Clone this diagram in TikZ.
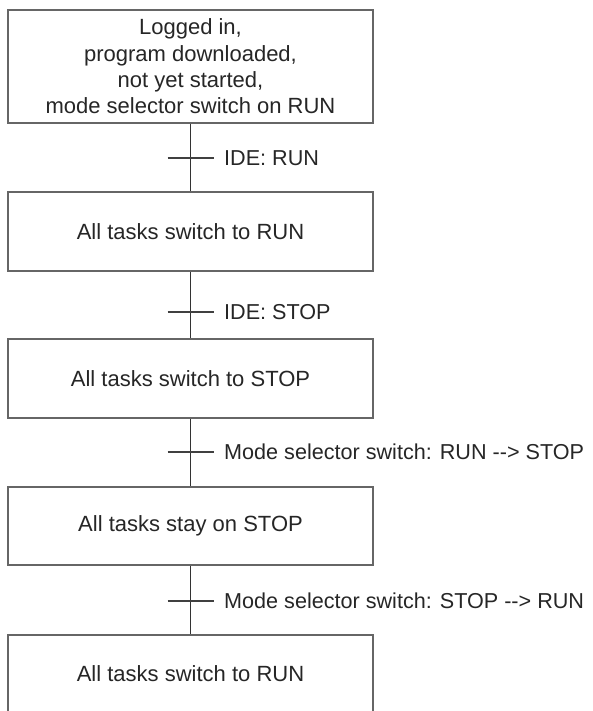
\documentclass[tikz,border=0pt]{standalone}
\usepackage{fontspec}
\setmainfont{Liberation Sans}
\begin{document}
\begin{tikzpicture}[x=1pt,y=-1pt,
  statebox/.style={draw=black!60, line width=1.6pt, fill=white, minimum width=365pt, inner sep=0pt, align=center, text=black!85, font=\fontsize{22}{26.3}\selectfont},
  conn/.style={draw=black!80, line width=1.3pt},
  tickline/.style={draw=black!75, line width=1.5pt},
  lbl/.style={anchor=west, inner sep=0pt, text=black!85, font=\fontsize{21.6}{26}\selectfont}]
\useasboundingbox (0,0) rectangle (593,711);
\clip (0,0) rectangle (593,711);
\node[statebox, minimum height=113pt] (b1) at (190.5,66.5) {Logged in,\\program downloaded,\\not yet started,\\mode selector switch on RUN};
\node[statebox, minimum height=79pt] (b2) at (190.5,231.5) {All tasks switch to RUN};
\node[statebox, minimum height=79pt] (b3) at (190.5,378.5) {All tasks switch to STOP};
\node[statebox, minimum height=78pt] (b4) at (190.5,526) {All tasks stay on STOP};
\node[statebox, minimum height=78pt] (b5) at (190.5,674) {All tasks switch to RUN};
\draw[conn] (b1.south) -- (b2.north);
\draw[conn] (b2.south) -- (b3.north);
\draw[conn] (b3.south) -- (b4.north);
\draw[conn] (b4.south) -- (b5.north);
\coordinate (t1) at (190.5,158);
\coordinate (t2) at (190.5,312);
\coordinate (t3) at (190.5,452);
\coordinate (t4) at (190.5,601);
\foreach \t in {t1,t2,t3,t4}{
  \draw[tickline] (\t) ++(-23,0) -- ++(46,0);
}
\node[lbl] (l1) at (224,158) {IDE: RUN};
\node[lbl] (l2) at (224,312) {IDE: STOP};
\node[lbl] (l3) at (224,452) {Mode selector switch: RUN -{}-{}> STOP};
\node[lbl] (l4) at (224,601) {Mode selector switch: STOP -{}-{}> RUN};
\end{tikzpicture}
\end{document}
